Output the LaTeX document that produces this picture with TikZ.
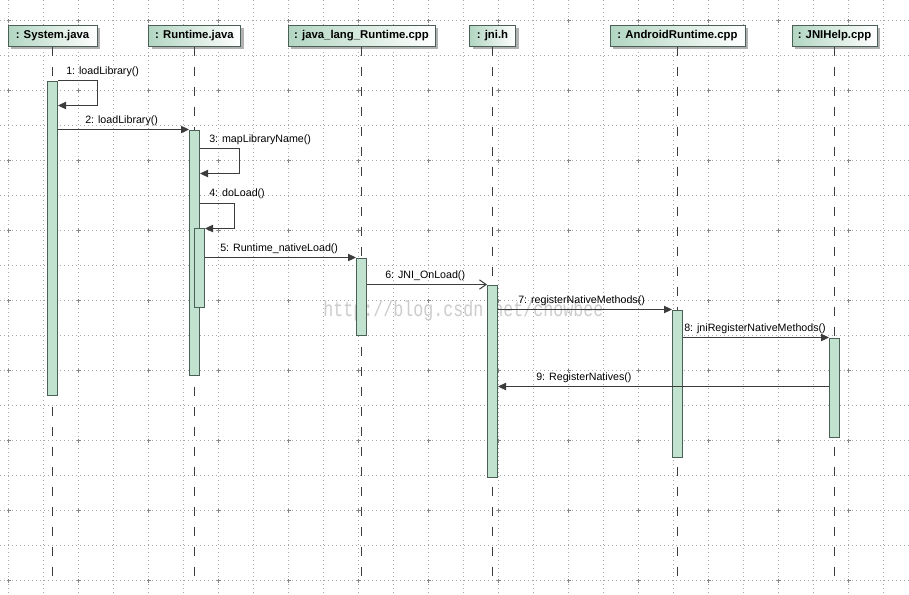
\documentclass[tikz,border=0pt]{standalone}
\usepackage{fontspec}
\setmainfont{Liberation Sans}
\newfontfamily\wmfont{Liberation Mono}
\usetikzlibrary{arrows.meta,shadows}
\definecolor{barfill}{HTML}{C0E2CF}
\definecolor{barline}{HTML}{4A5F55}
\definecolor{hdrleft}{HTML}{B2D6C2}
\definecolor{ink}{HTML}{3C3C3C}
\definecolor{gridc}{HTML}{A8A8A8}
\begin{document}
\begin{tikzpicture}[x=0.75pt,y=-0.75pt,
 hdr/.style={draw=barline, line width=0.75pt, left color=hdrleft, right color=white,
   font=\fontsize{8.5}{10}\selectfont\bfseries, minimum height=15.75pt, inner sep=0pt,
   drop shadow={shadow xshift=2.25pt, shadow yshift=-2.25pt, fill=black!30, opacity=1}},
 bar/.style={draw=barline, fill=barfill, line width=0.75pt, minimum width=7.5pt, inner sep=0pt, anchor=north},
 life/.style={ink, line width=0.8pt, dash pattern=on 7pt off 8pt},
 msg/.style={ink, line width=0.75pt, -{Triangle[length=6pt,width=5.5pt]}},
 amsg/.style={ink, line width=0.75pt, -{Straight Barb[length=5pt,width=7pt]}},
 lbl/.style={font=\fontsize{8}{9.5}\selectfont, anchor=west, inner sep=0pt},
 griddot/.style={gridc, line width=0.6pt, dash pattern=on 0.6pt off 2.4pt},
 gridplus/.style={gridc!80!black, line width=0.6pt},
]
\useasboundingbox (0,0) rectangle (909,594);
\fill[white] (0,0) rectangle (909,594);
% grid
\foreach \y in {20,55,...,580} \draw[griddot] (0,\y+0.5) -- (909,\y+0.5);
\foreach \x in {8,43,...,903} \draw[griddot] (\x+0.5,0) -- (\x+0.5,594);
\foreach \x in {8,78,...,900} \foreach \y in {20,90,...,580}
  \draw[gridplus] (\x-1.5,\y+0.5) -- (\x+2.5,\y+0.5) (\x+0.5,\y-1.5) -- (\x+0.5,\y+2.5);

% watermark (behind the bars)
\node[font=\wmfont\fontsize{12.5}{14}\selectfont, text=black!20, anchor=base west, inner sep=0pt, yscale=1.3] (wm) at (323,316) {http://blog.csdn.net/chowbee};

% headers
\node[hdr, minimum width=66.75pt] (hsys) at (52.5,35.5) {: System.java};
\node[hdr, minimum width=69pt] (hrt) at (194.5,35.5) {: Runtime.java};
\node[hdr, minimum width=110.25pt] (hjl) at (361.5,35.5) {: java\_lang\_Runtime.cpp};
\node[hdr, minimum width=34.5pt] (hjni) at (492.5,35.5) {: jni.h};
\node[hdr, minimum width=101.25pt] (hand) at (677.5,35.5) {: AndroidRuntime.cpp};
\node[hdr, minimum width=63.75pt] (hjh) at (834.5,35.5) {: JNIHelp.cpp};

% lifeline ends
\coordinate (bottom) at (0,577);
\draw[life] (hsys.south) -- (hsys.south |- bottom);
\draw[life] (hrt.south) -- (hrt.south |- bottom);
\draw[life] (hjl.south) -- (hjl.south |- bottom);
\draw[life] (hjni.south) -- (hjni.south |- bottom);
\draw[life] (hand.south) -- (hand.south |- bottom);
\draw[life] (hjh.south) -- (hjh.south |- bottom);

% activation bars
\node[bar, minimum height=235.5pt] (bsys) at (52.5,80.5) {};
\node[bar, minimum height=183.75pt] (brt) at (194.5,129.5) {};
\node[bar, minimum height=59.25pt] (brt2) at (199.5,227.5) {};
\node[bar, minimum height=57.75pt] (bjl) at (361.5,257.5) {};
\node[bar, minimum height=144pt] (bjni) at (492.5,284.5) {};
\node[bar, minimum height=110.25pt] (band) at (677.5,309.5) {};
\node[bar, minimum height=74.25pt] (bjh) at (834.5,337.5) {};

% message levels
\coordinate (y1) at (97.5,105.5);
\coordinate (y2) at (0,129.5);
\coordinate (y3a) at (239.5,148.5);
\coordinate (y3b) at (239.5,173.5);
\coordinate (y4a) at (234.5,203.5);
\coordinate (y4b) at (234.5,228.5);
\coordinate (y5) at (0,257.5);
\coordinate (y6) at (0,284.5);
\coordinate (y7) at (0,309.5);
\coordinate (y8) at (0,337.5);
\coordinate (y9) at (0,386.5);

% messages
\draw[msg] (bsys.north east) -| (y1) -- (bsys.east |- y1);
\draw[msg] (bsys.east |- y2) -- (brt.west |- y2);
\draw[msg] (brt.east |- y3a) -- (y3a) -- (y3b) -- (brt.east |- y3b);
\draw[msg] (brt.east |- y4a) -- (y4a) -- (y4b) -- (brt2.east |- y4b);
\draw[msg] (brt2.east |- y5) -- (bjl.west |- y5);
\draw[amsg] (bjl.east |- y6) -- (bjni.west |- y6);
\draw[msg] (bjni.east |- y7) -- (band.west |- y7);
\draw[msg] (band.east |- y8) -- (bjh.west |- y8);
\draw[msg] (bjh.west |- y9) -- (bjni.east |- y9);

% labels
\node[lbl] (l1) at (66,72) {1: loadLibrary()};
\node[lbl] (l2) at (85,121) {2: loadLibrary()};
\node[lbl] (l3) at (209,140) {3: mapLibraryName()};
\node[lbl] (l4) at (209,194) {4: doLoad()};
\node[lbl] (l5) at (220,249) {5: Runtime\_nativeLoad()};
\node[lbl] (l6) at (385,276) {6: JNI\_OnLoad()};
\node[lbl] (l7) at (518,301) {7: registerNativeMethods()};
\node[lbl] (l8) at (684,329) {8: jniRegisterNativeMethods()};
\node[lbl] (l9) at (536,378) {9: RegisterNatives()};
\end{tikzpicture}
\end{document}
